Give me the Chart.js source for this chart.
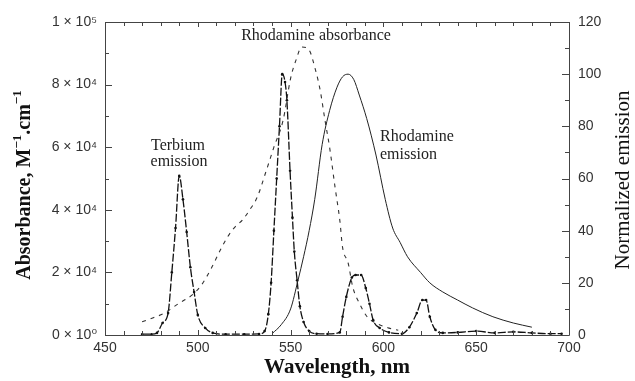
<!DOCTYPE html>
<html>
<head>
<meta charset="utf-8">
<script src="https://cdn.jsdelivr.net/npm/chart.js@4"></script>
<style>
html, body { margin: 0; padding: 0; background: #fff; }
#wrap { width: 635px; height: 381px; }
</style>
</head>
<body>
<div id="wrap"><canvas id="myChart" width="635" height="381"></canvas></div>
<script>
// Terbium emission (normalized, right axis)
var terbiumWl = [470, 475, 478, 481, 484, 486, 488, 490, 492, 494, 496, 498, 500, 504, 508, 515, 525, 533,
  536, 538, 539.5, 541, 542.5, 544, 545.5, 547, 548, 549.7, 551, 552, 553.5, 555, 557, 560, 564, 570,
  576.5, 578, 580, 583, 585, 588, 590.5, 592.5, 594.5, 598, 603, 610, 614, 618, 621, 623, 625, 628, 632,
  640, 650, 660, 670, 680, 690, 696];
var terbiumEm = [0.3, 0.3, 0.8, 4.6, 8.4, 24, 41, 61, 52, 39.5, 26, 16.5, 7.7, 2.7, 0.8, 0.3, 0.3, 0.4,
  1.5, 8, 20, 40, 60, 80, 100, 97, 90, 63, 45, 32, 21, 11, 5, 1.5, 0.5, 0.4,
  1, 7, 14.6, 22, 23, 23, 18, 12, 5.7, 2.7, 1, 0.5, 3, 8.4, 13.4, 13.4, 7, 2, 0.8,
  1, 1.5, 0.8, 1.2, 0.8, 0.5, 0.5];

// Rhodamine emission (normalized, right axis)
var rhodEmWl = [540, 545, 550, 554, 557, 560, 563, 567, 571, 575, 578, 581, 584, 587, 591, 596, 601,
  605, 609, 613, 620, 625, 632, 640, 648, 659, 670, 680];
var rhodEm = [0.5, 4, 10, 21, 30, 40, 52, 73, 86, 95, 99, 100, 98, 92, 83, 69, 52,
  41, 35.5, 30, 24, 20, 16.5, 13.4, 10.4, 7, 4.6, 3];

// Rhodamine absorbance (M^-1 cm^-1, left axis)
var rhodAbsWl = [470, 476, 482, 490, 497, 502, 507, 512, 516, 520, 524, 528, 532, 537, 541, 546, 550,
  553, 556, 560, 563, 566, 568.5, 571, 574, 576.5, 578, 581, 583.5, 587, 591, 596, 603, 608];
var rhodAbs = [4200, 5500, 7000, 10200, 12800, 16000, 21000, 27000, 31300, 34500, 36700, 40000, 44000,
  52700, 60000, 68700, 82000, 88000, 92000, 91000, 85600, 78000, 68700, 60000, 47000, 36700, 28000,
  23000, 15300, 10200, 6000, 3800, 2200, 1500];

var absTickLabels = ["0 × 10⁰", "2 × 10⁴", "4 × 10⁴", "6 × 10⁴", "8 × 10⁴", "1 × 10⁵"];
var emTickLabels = ["0", "20", "40", "60", "80", "100", "120"];

function pts(xs, ys) {
  return xs.map(function (x, i) { return { x: x, y: ys[i] }; });
}

// box, inward ticks, axis titles and curve labels
var frame = {
  id: 'frame',
  afterDraw: function (chart) {
    var ctx = chart.ctx, a = chart.chartArea;
    var x = chart.scales.x, y = chart.scales.y, y2 = chart.scales.y2;
    var w, v, p, len;
    ctx.save();
    ctx.strokeStyle = '#444';
    ctx.lineWidth = 1;
    ctx.beginPath();
    ctx.rect(Math.round(a.left) + 0.5, Math.round(a.top) + 0.5,
      Math.round(a.right - a.left), Math.round(a.bottom - a.top));
    for (w = 450; w <= 700; w += 10) {
      p = Math.round(x.getPixelForValue(w)) + 0.5;
      len = w % 50 === 0 ? 5 : 4;
      ctx.moveTo(p, a.bottom); ctx.lineTo(p, a.bottom - len);
      ctx.moveTo(p, a.top); ctx.lineTo(p, a.top + len);
    }
    for (v = 0; v <= 100000; v += 10000) {
      p = Math.round(y.getPixelForValue(v)) + 0.5;
      len = v % 20000 === 0 ? 7 : 4;
      ctx.moveTo(a.left, p); ctx.lineTo(a.left + len, p);
    }
    for (v = 0; v <= 120; v += 10) {
      p = Math.round(y2.getPixelForValue(v)) + 0.5;
      len = v % 20 === 0 ? 7 : 4;
      ctx.moveTo(a.right, p); ctx.lineTo(a.right - len, p);
    }
    ctx.stroke();

    ctx.fillStyle = '#111';
    ctx.textBaseline = 'middle';

    // left title with superscripts
    var big = 'bold 20px "Liberation Serif", serif', sup = 'bold 13px "Liberation Serif", serif';
    var parts = [['Absorbance, M', big, 0], ['−1', sup, -7], ['.cm', big, 0], ['−1', sup, -7]];
    var total = 0;
    parts.forEach(function (pt) { ctx.font = pt[1]; total += ctx.measureText(pt[0]).width; });
    ctx.save();
    ctx.translate(25, 185);
    ctx.rotate(-Math.PI / 2);
    ctx.textAlign = 'left';
    var cx = -total / 2;
    parts.forEach(function (pt) {
      ctx.font = pt[1];
      ctx.fillText(pt[0], cx, pt[2]);
      cx += ctx.measureText(pt[0]).width;
    });
    ctx.restore();

    // right title
    ctx.save();
    ctx.translate(623, 180);
    ctx.rotate(-Math.PI / 2);
    ctx.textAlign = 'center';
    ctx.font = '21px "Liberation Serif", serif';
    ctx.fillText('Normalized emission', 0, 0);
    ctx.restore();

    // bottom title
    ctx.textAlign = 'center';
    ctx.font = 'bold 21px "Liberation Serif", serif';
    ctx.fillText('Wavelength, nm', (a.left + a.right) / 2, 368);

    // curve labels
    ctx.font = '16px "Liberation Serif", serif';
    ctx.fillStyle = '#222';
    ctx.fillText('Terbium', 178, 146);
    ctx.fillText('emission', 179, 162);
    ctx.fillText('Rhodamine absorbance', 316, 36);
    ctx.textAlign = 'left';
    ctx.fillText('Rhodamine', 380, 137);
    ctx.fillText('emission', 380, 155);
    ctx.restore();
  }
};

var tickFont = { family: '"Liberation Sans", "DejaVu Sans", sans-serif', size: 14 };

new Chart('myChart', {
  type: 'line',
  data: {
    datasets: [{
      label: 'Rhodamine absorbance',
      data: pts(rhodAbsWl, rhodAbs),
      yAxisID: 'y',
      borderColor: '#333',
      borderWidth: 1.1,
      borderDash: [4, 5],
      pointRadius: 0,
      cubicInterpolationMode: 'monotone'
    }, {
      label: 'Rhodamine emission',
      data: pts(rhodEmWl, rhodEm),
      yAxisID: 'y2',
      borderColor: '#222',
      borderWidth: 1,
      pointRadius: 0,
      cubicInterpolationMode: 'monotone'
    }, {
      label: 'Terbium emission',
      data: pts(terbiumWl, terbiumEm),
      yAxisID: 'y2',
      borderColor: '#111',
      borderWidth: 1.3,
      borderDash: [8, 2],
      pointRadius: 1.3,
      pointBorderWidth: 0,
      pointBackgroundColor: '#111',
      cubicInterpolationMode: 'monotone'
    }]
  },
  options: {
    responsive: false,
    animation: false,
    layout: { padding: { top: 22, left: 0, right: 0, bottom: 0 } },
    plugins: { legend: { display: false }, tooltip: { enabled: false } },
    scales: {
      x: {
        type: 'linear', min: 450, max: 700,
        grid: { display: false, drawTicks: false }, border: { display: false },
        ticks: { stepSize: 50, padding: 5, color: '#333', font: tickFont, maxRotation: 0 },
        afterFit: function (s) { s.height = 46; }
      },
      y: {
        position: 'left', min: 0, max: 100000,
        grid: { display: false, drawTicks: false }, border: { display: false },
        ticks: {
          stepSize: 20000, padding: 8, color: '#333', font: tickFont,
          callback: function (v) { return absTickLabels[Math.round(v / 20000)]; }
        },
        afterFit: function (s) { s.width = 105; }
      },
      y2: {
        position: 'right', min: 0, max: 120,
        grid: { display: false, drawTicks: false }, border: { display: false },
        ticks: {
          stepSize: 20, padding: 9, color: '#333', font: tickFont,
          callback: function (v) { return emTickLabels[Math.round(v / 20)]; }
        },
        afterFit: function (s) { s.width = 66; }
      }
    }
  },
  plugins: [frame]
});
</script>
</body>
</html>
